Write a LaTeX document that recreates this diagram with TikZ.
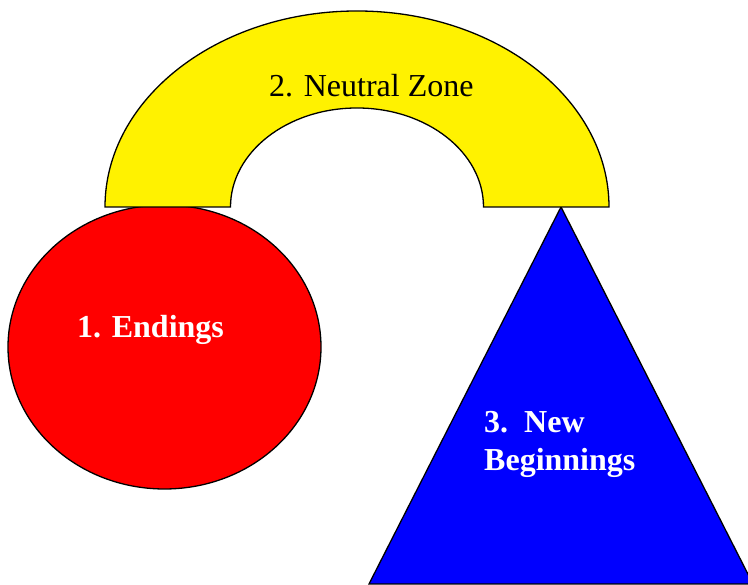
\documentclass[tikz,border=0pt]{standalone}
\usepackage{fontspec}
\setmainfont{Liberation Serif}
\begin{document}
\begin{tikzpicture}[x=1pt,y=1pt,
  shapeline/.style={draw=black,line width=1.3pt,line join=miter},
  whitelabel/.style={text=white,font=\fontsize{32}{38}\selectfont\bfseries,inner sep=0pt,anchor=base west},
  blacklabel/.style={text=black,font=\fontsize{32}{38}\selectfont,inner sep=0pt,anchor=base west}]
\useasboundingbox (0,0) rectangle (748,585);
\begin{scope}
\clip (0,0) rectangle (748,585);
% triangle
\filldraw[shapeline,fill=blue] (561,378) -- (369,1) -- (753,1) -- cycle;
% circle
\filldraw[shapeline,fill=red] (164.5,238) ellipse [x radius=156.5,y radius=142];
% arch
\filldraw[shapeline,fill=yellow] (105,378)
  arc[start angle=180,end angle=0,x radius=252,y radius=196]
  -- (483.5,378)
  arc[start angle=0,end angle=180,x radius=126.5,y radius=99]
  -- cycle;
\end{scope}
\node[blacklabel] (neutral) at (269,488) {2. Neutral Zone};
\node[whitelabel] (endings) at (77,247) {1. Endings};
\node[whitelabel] (new1) at (484,152) {3.\ \ New};
\node[whitelabel] (new2) at (484,114) {Beginnings};
\end{tikzpicture}
\end{document}
